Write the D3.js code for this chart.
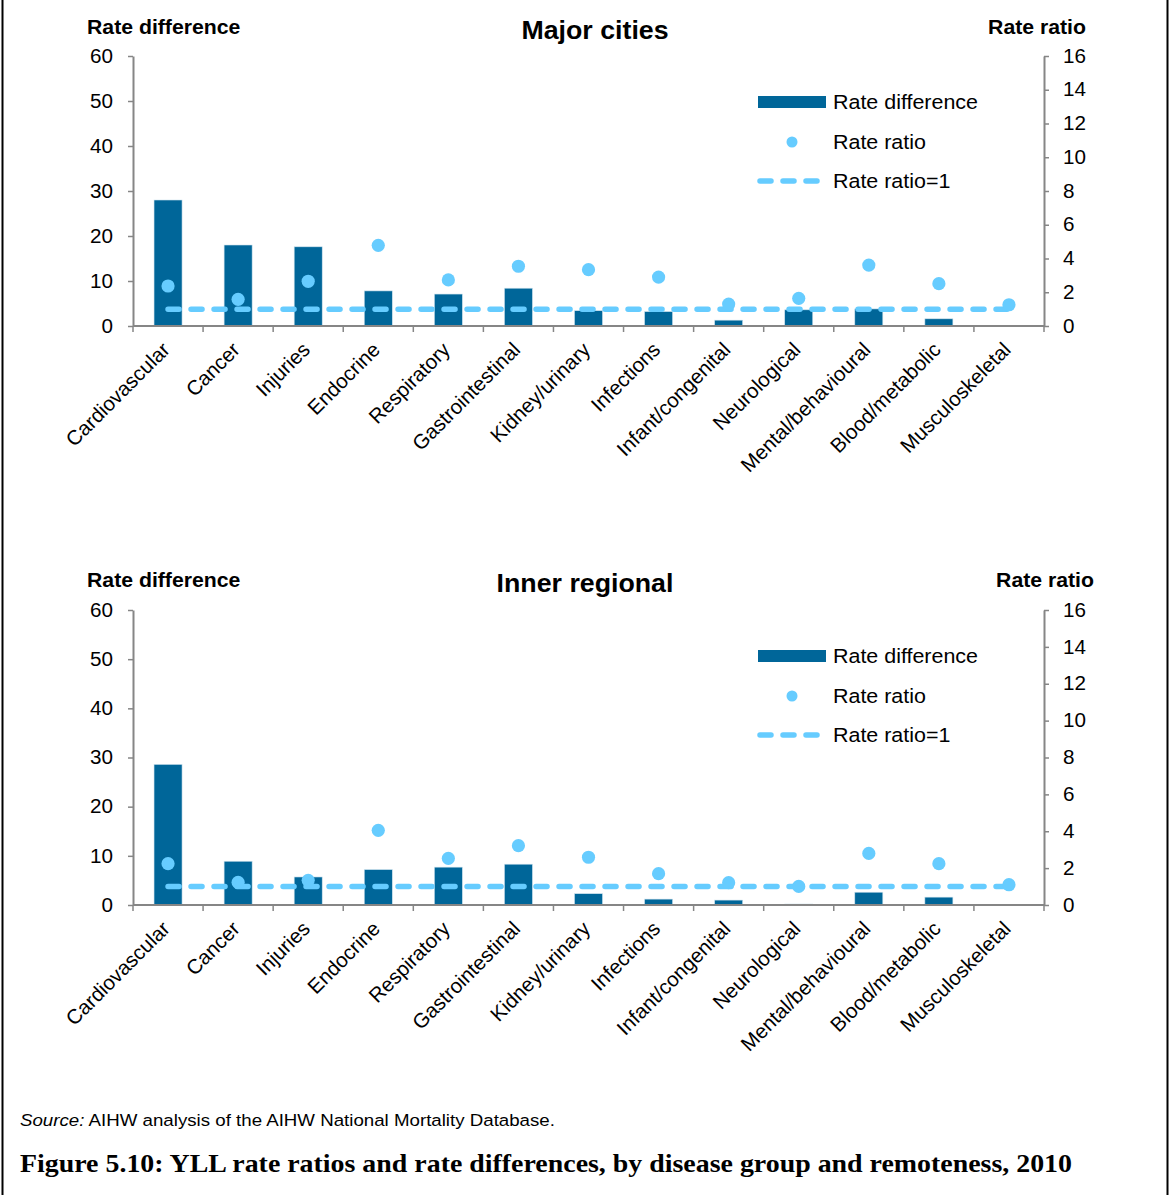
<!DOCTYPE html>
<html>
<head>
<meta charset="utf-8">
<script src="https://cdn.jsdelivr.net/npm/d3@7/dist/d3.min.js"></script>
<style>
  html, body { margin: 0; padding: 0; background: #fff; }
  svg { display: block; font-family: "Liberation Sans", Arial, sans-serif; }
</style>
</head>
<body>
<svg id="chart" width="1170" height="1195"></svg>
<script>
// Disease groups along the x axis
const categories = ["Cardiovascular", "Cancer", "Injuries", "Endocrine", "Respiratory",
  "Gastrointestinal", "Kidney/urinary", "Infections", "Infant/congenital",
  "Neurological", "Mental/behavioural", "Blood/metabolic", "Musculoskeletal"];

// Major cities
const majorRateDiff  = [28.0, 18.0, 17.6, 7.8, 7.1, 8.4, 3.4, 3.2, 1.3, 3.6, 3.8, 1.6, 0.1];
const majorRateRatio = [2.37, 1.58, 2.65, 4.78, 2.73, 3.54, 3.34, 2.90, 1.30, 1.64, 3.61, 2.51, 1.26];

// Inner regional
const innerRateDiff  = [28.6, 8.9, 5.7, 7.2, 7.7, 8.3, 2.3, 1.2, 1.0, 0.2, 2.6, 1.6, 0.0];
const innerRateRatio = [2.24, 1.23, 1.34, 4.05, 2.53, 3.22, 2.59, 1.70, 1.21, 1.01, 2.80, 2.24, 1.10];

const leftTicks  = [0, 10, 20, 30, 40, 50, 60];
const rightTicks = [0, 2, 4, 6, 8, 10, 12, 14, 16];
const referenceRatio = 1;

const legendLabels = ["Rate difference", "Rate ratio", "Rate ratio=1"];

const BAR = "#006699";
const DOT = "#66ccff";
const AXIS = "#868686";
const SX = 1.1; // horizontal widening of the sans-serif text

const svg = d3.select("#chart");

// place a horizontal text at (x, y), widened by SX around its anchor
function wideText(parent, x, y, str, size, opts = {}) {
  const t = parent.append("text")
    .attr("transform", `translate(${x},${y}) scale(${opts.sx || SX},1)`)
    .attr("font-size", size)
    .attr("text-anchor", opts.anchor || "start")
    .text(str);
  if (opts.bold) t.attr("font-weight", "bold");
  return t;
}

const panels = [
  { title: "Major cities", diff: majorRateDiff, ratio: majorRateRatio,
    top: 56, bottom: 326, titleX: 595, leftTitleX: 87, rightTitleEnd: 1086, headY: 34, titleY: 39 },
  { title: "Inner regional", diff: innerRateDiff, ratio: innerRateRatio,
    top: 610, bottom: 905, titleX: 585, leftTitleX: 87, rightTitleEnd: 1094, headY: 587, titleY: 592 }
];

const x0 = 133, x1 = 1044;

panels.forEach(p => {
  const g = svg.append("g");

  const band = d3.scaleBand().domain(categories).range([x0, x1]);
  const yL = d3.scaleLinear().domain([0, 60]).range([p.bottom, p.top]);
  const yR = d3.scaleLinear().domain([0, 16]).range([p.bottom, p.top]);
  const cx = c => band(c) + band.bandwidth() / 2;
  const barW = band.bandwidth() * 0.4;

  // headings
  wideText(g, p.titleX, p.titleY, p.title, 25, { anchor: "middle", bold: true, sx: 1.07 });
  wideText(g, p.leftTitleX, p.headY, "Rate difference", 19.5, { bold: true, sx: 1.09 });
  wideText(g, p.rightTitleEnd, p.headY, "Rate ratio", 19.5, { anchor: "end", bold: true, sx: 1.09 });

  // bars
  g.append("g").selectAll("rect").data(categories).join("rect")
    .attr("x", c => cx(c) - barW / 2)
    .attr("width", barW)
    .attr("y", (c, i) => yL(p.diff[i]))
    .attr("height", (c, i) => yL(0) - yL(p.diff[i]))
    .attr("fill", BAR)
    .attr("stroke", "#cfe3ee").attr("stroke-width", 0.6);

  // rate ratio = 1 reference line
  g.append("line")
    .attr("x1", cx(categories[0])).attr("x2", cx(categories[categories.length - 1]))
    .attr("y1", yR(referenceRatio)).attr("y2", yR(referenceRatio))
    .attr("stroke", DOT).attr("stroke-width", 5.5)
    .attr("stroke-dasharray", "11,12").attr("stroke-linecap", "round");

  // rate ratio points
  g.append("g").selectAll("circle").data(categories).join("circle")
    .attr("cx", c => cx(c))
    .attr("cy", (c, i) => yR(p.ratio[i]))
    .attr("r", 6.6)
    .attr("fill", DOT);

  // left axis
  const axL = g.append("g").attr("transform", `translate(${x0},0)`)
    .call(d3.axisLeft(yL).tickValues(leftTicks).tickSize(5).tickPadding(15).tickSizeOuter(0));
  // right axis
  const axR = g.append("g").attr("transform", `translate(${x1},0)`)
    .call(d3.axisRight(yR).tickValues(rightTicks).tickSize(5).tickPadding(14).tickSizeOuter(0));
  // bottom axis with ticks at band boundaries
  const axB = g.append("g").attr("transform", `translate(0,${p.bottom})`);
  axB.append("line").attr("x1", x0).attr("x2", x1).attr("y1", 0).attr("y2", 0)
    .attr("stroke", AXIS).attr("stroke-width", 2);
  axB.selectAll("line.tk").data(d3.range(categories.length + 1)).join("line")
    .attr("class", "tk")
    .attr("x1", i => x0 + i * band.step()).attr("x2", i => x0 + i * band.step())
    .attr("y1", 0).attr("y2", 6)
    .attr("stroke", AXIS).attr("stroke-width", 1.5);
  axB.selectAll("text").data(categories).join("text")
    .attr("transform", c => `translate(${cx(c) + 3},${25}) rotate(-45)`)
    .attr("text-anchor", "end")
    .attr("font-size", 20.5)
    .attr("fill", "#000")
    .text(c => c);

  [axL, axR].forEach(a => {
    a.select(".domain").attr("stroke", AXIS).attr("stroke-width", 2);
    a.selectAll(".tick line").attr("stroke", AXIS).attr("stroke-width", 1.5);
    a.selectAll(".tick text").attr("font-size", 19.5).attr("fill", "#000")
      .attr("font-family", "'Liberation Sans', Arial, sans-serif")
      .each(function () {
        const t = d3.select(this);
        const xv = +t.attr("x");
        t.attr("x", xv / 1.06).attr("transform", "scale(1.06,1)");
      });
  });

  // legend
  const lg = g.append("g").attr("transform", `translate(758,${p.top})`);
  lg.append("rect").attr("x", 0).attr("y", 40).attr("width", 68).attr("height", 12).attr("fill", BAR);
  lg.append("circle").attr("cx", 34).attr("cy", 86).attr("r", 5.5).attr("fill", DOT);
  lg.append("line").attr("x1", 2).attr("x2", 60).attr("y1", 125).attr("y2", 125)
    .attr("stroke", DOT).attr("stroke-width", 5.5)
    .attr("stroke-dasharray", "11,12").attr("stroke-linecap", "round");
  [46, 86, 125].forEach((dy, i) => {
    wideText(lg, 75, dy + 7, legendLabels[i], 19.5);
  });
});

// source note
const src = svg.append("text")
  .attr("transform", `translate(20,1126) scale(1.1,1)`)
  .attr("font-size", 17);
src.append("tspan").attr("font-style", "italic").text("Source:");
src.append("tspan").text(" AIHW analysis of the AIHW National Mortality Database.");

// figure caption
svg.append("text").attr("x", 20).attr("y", 1172)
  .attr("font-family", "'Liberation Serif', 'DejaVu Serif', serif")
  .attr("font-weight", "bold").attr("font-size", 25)
  .attr("textLength", 1052).attr("lengthAdjust", "spacingAndGlyphs")
  .text("Figure 5.10: YLL rate ratios and rate differences, by disease group and remoteness, 2010");

// frame
svg.append("line").attr("x1", 2.5).attr("x2", 2.5).attr("y1", 0).attr("y2", 1195)
  .attr("stroke", "#000").attr("stroke-width", 2);
svg.append("line").attr("x1", 1167.5).attr("x2", 1167.5).attr("y1", 0).attr("y2", 1195)
  .attr("stroke", "#000").attr("stroke-width", 2);
</script>
</body>
</html>
